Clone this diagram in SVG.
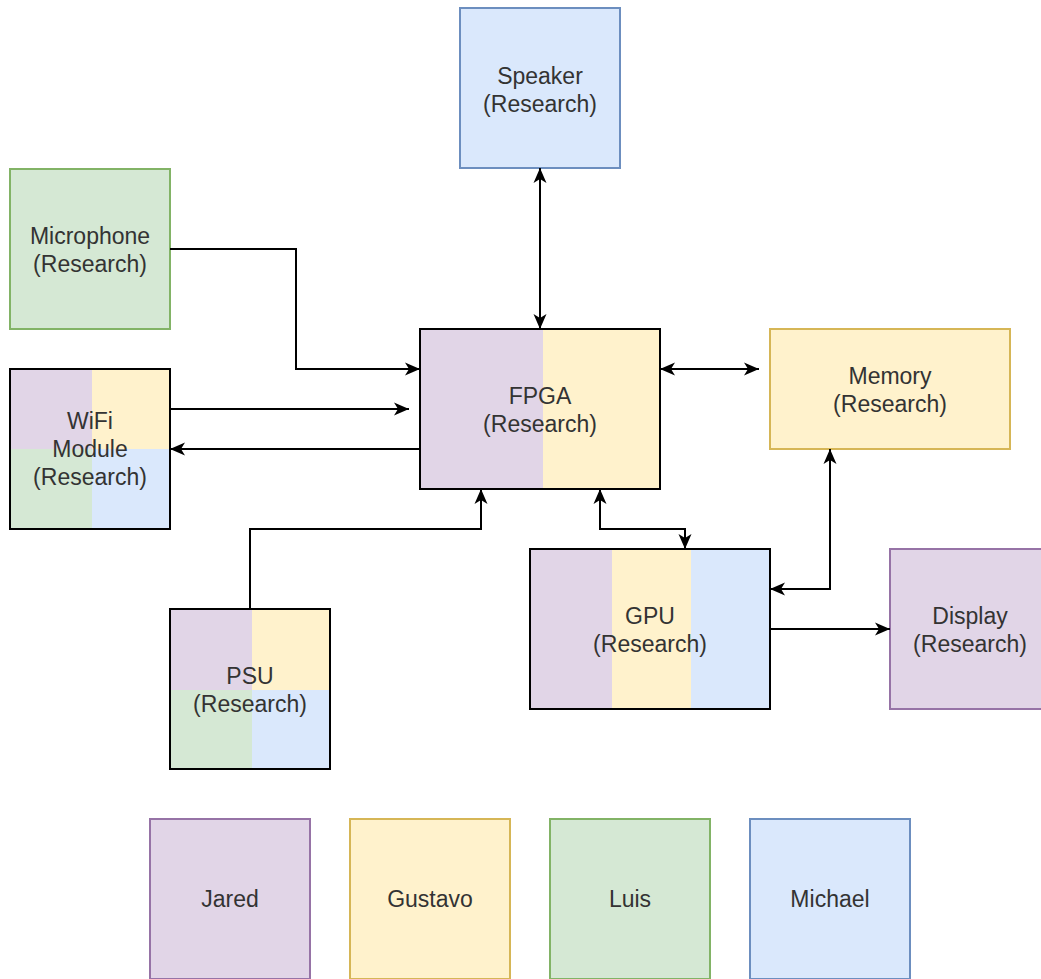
<svg xmlns="http://www.w3.org/2000/svg" width="1041" height="979" viewBox="0 0 1041 979">
<style>
.t{font-family:"Liberation Sans",Arial,sans-serif;font-size:23px;fill:#333333;text-anchor:middle}
.pu{fill:#e1d5e7}.ye{fill:#fff2cc}.gr{fill:#d5e8d4}.bl{fill:#dae8fc}
.pus{fill:#e1d5e7;stroke:#9673a6;stroke-width:2}
.yes{fill:#fff2cc;stroke:#d6b656;stroke-width:2}
.grs{fill:#d5e8d4;stroke:#82b366;stroke-width:2}
.bls{fill:#dae8fc;stroke:#6c8ebf;stroke-width:2}
.bk{fill:none;stroke:#000;stroke-width:2}
.c{fill:none;stroke:#000;stroke-width:2}
</style>
<defs>
<marker id="arr" viewBox="0 0 16 14" refX="15" refY="7" markerWidth="16" markerHeight="14" markerUnits="userSpaceOnUse" orient="auto-start-reverse">
<path d="M0,0.5 L15,7 L0,13.5 L4,7 Z" fill="#000"/>
</marker>
</defs>

<g id="speaker">
<rect x="460" y="8" width="160" height="160" class="bls"/>
<text class="t" x="540" y="84">Speaker</text>
<text class="t" x="540" y="112">(Research)</text>
</g>

<g id="microphone">
<rect x="10" y="169" width="160" height="160" class="grs"/>
<text class="t" x="90" y="244">Microphone</text>
<text class="t" x="90" y="272">(Research)</text>
</g>

<g id="wifi">
<rect x="10" y="369" width="82" height="80" class="pu"/>
<rect x="92" y="369" width="78" height="80" class="ye"/>
<rect x="10" y="449" width="82" height="80" class="gr"/>
<rect x="92" y="449" width="78" height="80" class="bl"/>
<rect x="10" y="369" width="160" height="160" class="bk"/>
<text class="t" x="90" y="429">WiFi</text>
<text class="t" x="90" y="457">Module</text>
<text class="t" x="90" y="485">(Research)</text>
</g>

<g id="fpga">
<rect x="420" y="329" width="123" height="160" class="pu"/>
<rect x="543" y="329" width="117" height="160" class="ye"/>
<rect x="420" y="329" width="240" height="160" class="bk"/>
<text class="t" x="540" y="404">FPGA</text>
<text class="t" x="540" y="432">(Research)</text>
</g>

<g id="memory">
<rect x="770" y="329" width="240" height="120" class="yes"/>
<text class="t" x="890" y="384">Memory</text>
<text class="t" x="890" y="412">(Research)</text>
</g>

<g id="gpu">
<rect x="530" y="549" width="82" height="160" class="pu"/>
<rect x="612" y="549" width="79" height="160" class="ye"/>
<rect x="691" y="549" width="79" height="160" class="bl"/>
<rect x="530" y="549" width="240" height="160" class="bk"/>
<text class="t" x="650" y="624">GPU</text>
<text class="t" x="650" y="652">(Research)</text>
</g>

<g id="display">
<rect x="890" y="549" width="160" height="160" class="pus"/>
<text class="t" x="970" y="624">Display</text>
<text class="t" x="970" y="652">(Research)</text>
</g>

<g id="psu">
<rect x="170" y="609" width="82" height="81" class="pu"/>
<rect x="252" y="609" width="78" height="81" class="ye"/>
<rect x="170" y="690" width="82" height="79" class="gr"/>
<rect x="252" y="690" width="78" height="79" class="bl"/>
<rect x="170" y="609" width="160" height="160" class="bk"/>
<text class="t" x="250" y="684">PSU</text>
<text class="t" x="250" y="712">(Research)</text>
</g>

<g id="legend-jared">
<rect x="150" y="819" width="160" height="160" class="pus"/>
<text class="t" x="230" y="907">Jared</text>
</g>
<g id="legend-gustavo">
<rect x="350" y="819" width="160" height="160" class="yes"/>
<text class="t" x="430" y="907">Gustavo</text>
</g>
<g id="legend-luis">
<rect x="550" y="819" width="160" height="160" class="grs"/>
<text class="t" x="630" y="907">Luis</text>
</g>
<g id="legend-michael">
<rect x="750" y="819" width="160" height="160" class="bls"/>
<text class="t" x="830" y="907">Michael</text>
</g>

<g id="connectors">
<path class="c" d="M540,168 L540,329" marker-start="url(#arr)" marker-end="url(#arr)"/>
<path class="c" d="M170,249 L296,249 L296,369 L420,369" marker-end="url(#arr)"/>
<path class="c" d="M170,409 L409,409" marker-end="url(#arr)"/>
<path class="c" d="M420,449 L170,449" marker-end="url(#arr)"/>
<path class="c" d="M660,369 L759,369" marker-start="url(#arr)" marker-end="url(#arr)"/>
<path class="c" d="M250,609 L250,529 L481,529 L481,489" marker-end="url(#arr)"/>
<path class="c" d="M600,489 L600,529 L685,529 L685,549" marker-start="url(#arr)" marker-end="url(#arr)"/>
<path class="c" d="M830,449 L830,589 L770,589" marker-start="url(#arr)" marker-end="url(#arr)"/>
<path class="c" d="M770,629 L890,629" marker-end="url(#arr)"/>
</g>
</svg>
